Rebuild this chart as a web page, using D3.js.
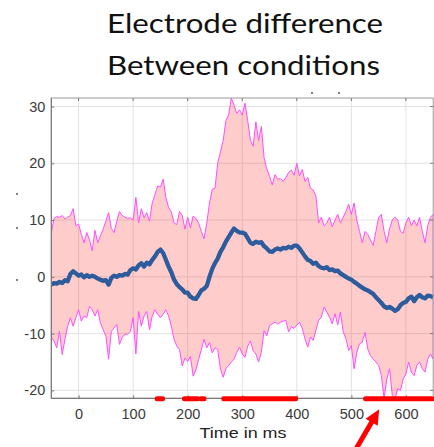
<!DOCTYPE html>
<html lang="en">
	<head>
		<meta charset="utf-8">
		<title>Electrode difference</title>
		<script src="https://d3js.org/d3.v7.min.js"></script>
		<style type="text/css">
			body { margin: 0; background: #fff; }
		</style>
	</head>
	<body>
		<script type="text/javascript">
			// sample times (ms), one value every 5 ms
			var times = d3.range(-50, 651, 5);

			// upper bound of the interval
			var upper = [
				7.8, 10.3, 10.6, 10.5, 10.8, 10.2, 10.5, 10.8, 12, 9,
				9.3, 7.5, 6, 7.8, 6.5, 4.6, 8.2, 6, 7.2, 8.4,
				9.8, 11.3, 8.5, 7.8, 9.8, 11.5, 10.8, 10.5, 10.3, 10.4,
				10, 14, 9.5, 12, 10.4, 11.3, 9.8, 13, 14.5, 16,
				15.8, 17.2, 14, 12.2, 11.4, 9.5, 9.2, 11.5, 10.8, 8.4,
				10.5, 8.6, 10.7, 10.3, 9.5, 8, 6.7, 9.5, 13, 15.4,
				15.6, 20, 22, 24, 27.5, 28.5, 31.5, 30.2, 28.8, 29.4,
				28.5, 30.6, 27.5, 24, 23, 27.3, 24, 26.5, 21, 19,
				17.7, 16.2, 18, 17.2, 17.3, 16.8, 17.5, 18.4, 18.8, 17.9,
				20, 17.8, 18.9, 16.8, 17.5, 15.6, 15.3, 14.2, 9.5, 10.5,
				9, 9.5, 10.5, 8.8, 10, 11, 9.5, 10.5, 11.5, 12.8,
				11, 13, 10, 8, 6, 8, 7.5, 6.5, 5.5, 8,
				10.5, 11, 8, 6, 8.5, 10, 10.5, 10, 8, 7.7,
				9.5, 10.5, 9, 10, 9, 10.5, 8, 6, 9, 10.5,
				11
			];

			// lower bound of the interval
			var lower = [
				-10.7, -11.3, -12.5, -9.6, -13.7, -11, -8.7, -7.2, -8.7, -7.2,
				-5.8, -7.8, -6.9, -7.2, -5.2, -5.8, -6.9, -5.8, -8.1, -9.3,
				-10.4, -14.5, -9.6, -9, -8.4, -11.9, -10.7, -10.1, -10.1, -9.6,
				-7.2, -13.6, -6.1, -8.7, -6.9, -6.1, -9.3, -6.9, -5.8, -6.6,
				-7.2, -6.6, -5.8, -6.9, -8.7, -11, -12.2, -12.8, -15.7, -14.3,
				-14.9, -14, -17.5, -16.4, -14.6, -12.8, -11, -12.5, -11.6, -13.4,
				-12.5, -12.8, -16.2, -17.7, -16.2, -15.6, -15, -14.5, -13.3, -12.4,
				-13.6, -14.2, -12.2, -11.3, -13, -13.6, -15, -13.3, -9.5, -10.4,
				-8.6, -8.3, -8, -8.3, -8, -7.8, -7.7, -9.7, -8.8, -9.1,
				-8.5, -8, -9.1, -10.9, -12.4, -10.6, -11.2, -9.4, -7.7, -7.1,
				-5.3, -6.2, -7.1, -8.3, -6.5, -8.5, -6.2, -9.7, -10.9, -13,
				-12.1, -16.2, -13.3, -11.8, -11.5, -9.8, -12.7, -13.9, -14.5, -15,
				-15.6, -17.4, -21.5, -18, -16.2, -20.9, -21.5, -19.7, -20, -18,
				-17.1, -15, -16.8, -17.4, -15.6, -15, -16.2, -16.8, -14.5, -13.6,
				-14.5
			];

			// mean difference
			var mean = [
				-1.4, -1.1, -1.2, -0.9, -1.1, -0.6, -0.8, 0.5, 1, 0.6,
				0.2, 0.4, -0.1, 0.3, 0, 0.2, 0, -0.3, -0.5, -0.7,
				-0.6, -1.4, -0.2, 0.2, 0, 0.3, 0.2, 0.5, 0.4, 1.2,
				1.5, 1.3, 2, 2.4, 1.8, 2.5, 2.2, 3, 3.6, 4.4,
				4.8, 4.2, 3, 1.8, 0.8, -0.5, -1.3, -1.8, -2.2, -2.8,
				-2.8, -3.5, -3.8, -3.9, -3.2, -2.4, -2.1, -1.6, 0, 1.4,
				2.4, 3.2, 4.4, 5.2, 6.2, 7, 7.8, 8.5, 8.1, 7.8,
				7.8, 7.6, 6.8, 6, 5.8, 6.2, 6, 6.1, 5.4, 5,
				4.5, 4.4, 4.8, 5, 4.8, 5.1, 5, 5.3, 5.1, 5.5,
				5.5, 5, 4.3, 3.6, 3, 2.8, 2.3, 2.5, 1.9, 1.6,
				1.5, 1.7, 1.2, 1.3, 1, 1.1, 0.6, 0.3, 0, -0.3,
				-0.5, -0.9, -1.2, -1.6, -1.9, -2.2, -2.4, -2.7, -3, -3.6,
				-4.1, -4.6, -5.2, -5.5, -5.3, -5.6, -6, -5.7, -5, -4.6,
				-4.4, -3.8, -3.5, -4.3, -3.6, -3.2, -3.6, -3.8, -3.3, -3.4,
				-3.6
			];

			// significant time windows (ms)
			var sigWindows = [[144, 154], [194, 218], [224, 230], [266, 398], [526, 648]];

			var xTicks = [0, 100, 200, 300, 400, 500, 600];
			var yTicks = [-20, -10, 0, 10, 20, 30];
			var titleLines = ["Electrode difference", "Between conditions"];
			var xLabel = "Time in ms";

			var W = 434, H = 447;
			var plot = {left: 51.3, right: 433.2, top: 98, bottom: 398.3};

			var svg = d3.select("body").append("svg")
				.attr("width", W)
				.attr("height", H);

			var x = d3.scaleLinear().domain([-50, 650]).range([plot.left, plot.right]);
			var y = d3.scaleLinear().domain([-21.4, 31.5]).range([plot.bottom, plot.top]);

			// title
			svg.selectAll("text.title")
				.data(titleLines)
				.enter()
				.append("text")
				.attr("class", "title")
				.attr("x", function(d, i){ return i == 0 ? 245 : 243.5; })
				.attr("y", function(d, i){ return i == 0 ? 32.5 : 75; })
				.attr("text-anchor", "middle")
				.attr("textLength", function(d, i){ return i == 0 ? 276 : 273; })
				.attr("lengthAdjust", "spacingAndGlyphs")
				.style("font-family", "Lato, 'Open Sans', sans-serif")
				.style("font-size", "27.5px")
				.style("fill", "#111")
				.text(function(d){ return d; });

			svg.append("clipPath")
				.attr("id", "clip")
				.append("rect")
				.attr("x", plot.left)
				.attr("y", plot.top)
				.attr("width", plot.right - plot.left)
				.attr("height", plot.bottom - plot.top);

			// grid
			var grid = svg.append("g");
			grid.selectAll("line.gx")
				.data(xTicks)
				.enter()
				.append("line")
				.attr("x1", function(d){ return x(d); })
				.attr("x2", function(d){ return x(d); })
				.attr("y1", plot.top)
				.attr("y2", plot.bottom)
				.attr("stroke", "#e3e3e3");
			grid.selectAll("line.gy")
				.data(yTicks)
				.enter()
				.append("line")
				.attr("x1", plot.left)
				.attr("x2", plot.right)
				.attr("y1", function(d){ return y(d); })
				.attr("y2", function(d){ return y(d); })
				.attr("stroke", "#e3e3e3");

			var band = times.map(function(t, i){ return {t: t, hi: upper[i], lo: lower[i], m: mean[i]}; });

			var data = svg.append("g").attr("clip-path", "url(#clip)");

			var area = d3.area()
				.x(function(d){ return x(d.t); })
				.y0(function(d){ return y(d.lo); })
				.y1(function(d){ return y(d.hi); });

			data.append("path")
				.datum(band)
				.attr("d", function(d){ return area(d) + "Z"; })
				.attr("fill", "red")
				.attr("fill-opacity", 0.2)
				.attr("stroke", "#ff4dff")
				.attr("stroke-width", 1);

			data.append("path")
				.datum(band)
				.attr("d", d3.line()
					.x(function(d){ return x(d.t); })
					.y(function(d){ return y(d.m); }))
				.attr("fill", "none")
				.attr("stroke", "#2c5c9c")
				.attr("stroke-width", 4.3)
				.attr("stroke-linejoin", "round");

			// axes, MATLAB style box with inward ticks
			var xAxis = svg.append("g")
				.attr("transform", "translate(0," + plot.bottom + ")")
				.call(d3.axisBottom(x).tickValues(xTicks).tickSize(-3).tickPadding(10)
					.tickFormat(function(d){ return String(d); }));
			var yAxis = svg.append("g")
				.attr("transform", "translate(" + plot.left + ",0)")
				.call(d3.axisLeft(y).tickValues(yTicks).tickSize(-3).tickPadding(6)
					.tickFormat(function(d){ return String(d); }));

			[xAxis, yAxis].forEach(function(a){
				a.select(".domain").remove();
				a.selectAll(".tick line").attr("stroke", "#777");
				a.selectAll(".tick text")
					.style("font-family", "'Liberation Sans', Arial, sans-serif")
					.style("font-size", "14.5px")
					.attr("fill", "#3a3a3a");
			});

			// ticks on top / right
			svg.append("g").selectAll("line")
				.data(xTicks)
				.enter()
				.append("line")
				.attr("x1", function(d){ return x(d); })
				.attr("x2", function(d){ return x(d); })
				.attr("y1", plot.top)
				.attr("y2", plot.top + 3)
				.attr("stroke", "#777");
			svg.append("g").selectAll("line")
				.data(yTicks)
				.enter()
				.append("line")
				.attr("x1", plot.right - 3)
				.attr("x2", plot.right)
				.attr("y1", function(d){ return y(d); })
				.attr("y2", function(d){ return y(d); })
				.attr("stroke", "#777");

			svg.append("rect")
				.attr("x", plot.left)
				.attr("y", plot.top)
				.attr("width", plot.right - plot.left)
				.attr("height", plot.bottom - plot.top)
				.attr("fill", "none")
				.attr("stroke", "#999");
			svg.append("path")
				.attr("d", "M" + plot.left + "," + plot.top + "V" + plot.bottom + "H" + plot.right)
				.attr("fill", "none")
				.attr("stroke", "#6e6e6e");

			svg.append("text")
				.attr("x", 243)
				.attr("y", 438)
				.attr("text-anchor", "middle")
				.attr("textLength", 87)
				.attr("lengthAdjust", "spacingAndGlyphs")
				.style("font-family", "'Liberation Sans', Arial, sans-serif")
				.style("font-size", "15px")
				.style("fill", "#222")
				.text(xLabel);

			// significance markers along the time axis
			svg.append("g").selectAll("line")
				.data(sigWindows)
				.enter()
				.append("line")
				.attr("x1", function(d){ return x(d[0]); })
				.attr("x2", function(d){ return x(d[1]); })
				.attr("y1", plot.bottom + 0.5)
				.attr("y2", plot.bottom + 0.5)
				.attr("stroke", "#f00")
				.attr("stroke-width", 5)
				.attr("stroke-linecap", "round");

			// stray specks left over from the slide
			var specks = [[17, 194], [17, 228], [17, 280], [312, 93], [339, 93]];
			svg.append("g").selectAll("circle")
				.data(specks)
				.enter()
				.append("circle")
				.attr("cx", function(d){ return d[0]; })
				.attr("cy", function(d){ return d[1]; })
				.attr("r", 0.9)
				.attr("fill", "#444");

			// red arrow pointing at the late window
			var tipX = x(551), tipY = plot.bottom + 11;
			var ux = 0.505, uy = -0.863;
			var bx = tipX - 15 * ux, by = tipY - 15 * uy;
			svg.append("line")
				.attr("x1", tipX - 60 * ux)
				.attr("y1", tipY - 60 * uy)
				.attr("x2", bx + 2 * ux)
				.attr("y2", by + 2 * uy)
				.attr("stroke", "#f00")
				.attr("stroke-width", 5);
			svg.append("path")
				.attr("d", "M" + tipX + "," + tipY +
					"L" + (bx - 7 * -uy) + "," + (by - 7 * ux) +
					"L" + (bx + 7 * -uy) + "," + (by + 7 * ux) + "Z")
				.attr("fill", "#f00");
		</script>
	</body>
</html>
